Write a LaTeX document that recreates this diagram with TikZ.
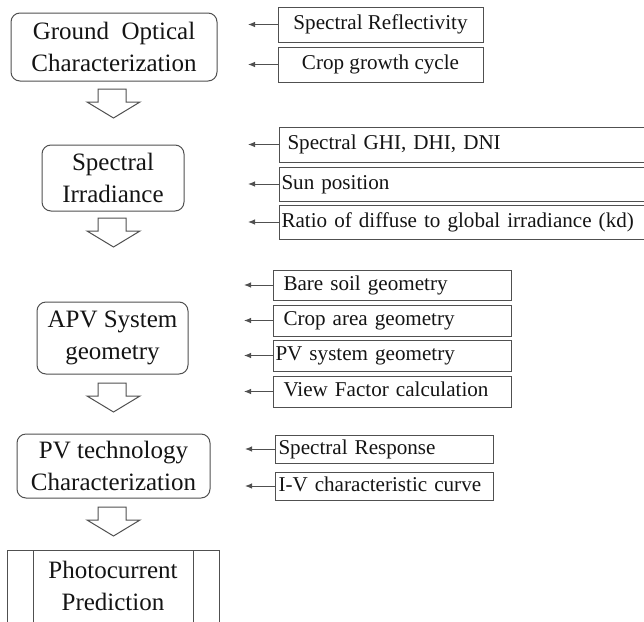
\documentclass[tikz,border=0pt]{standalone}
\usepackage{fontspec}
\setmainfont{Liberation Serif}
\usetikzlibrary{arrows.meta}
\definecolor{lc}{HTML}{505050}
\definecolor{tc}{HTML}{141414}
\begin{document}
\begin{tikzpicture}[x=1pt,y=-1pt,
  bigbox/.style={draw=lc, line width=1pt, rounded corners=9pt, align=center, text=tc,
    font=\fontsize{25}{32}\selectfont, inner sep=0pt},
  bigtext/.style={align=center, text=tc, font=\fontsize{25}{32}\selectfont, inner sep=0pt},
  smallbox/.style={draw=lc, line width=1pt, text=tc, font=\fontsize{21.1}{25}\selectfont,
    inner ysep=0pt, text height=15pt, text depth=4.7pt},
  lbox/.style={smallbox, anchor=west, align=left},
  conn/.style={draw=lc, line width=0.9pt, -{Latex[length=7pt,width=5.5pt]}},
  barrow/.style={draw=lc, line width=1pt, fill=white, line join=miter},
  frame/.style={draw=lc, line width=1pt}]
\useasboundingbox (0,0) rectangle (644,621);
\clip (0,0) rectangle (644,621);

% main chain
\node[bigbox, minimum width=206, minimum height=68] (gnd) at (114,47) {Ground\ \ Optical\\Characterization};
\node[bigbox, minimum width=142, minimum height=66] (irr) at (113,178) {Spectral\\Irradiance};
\node[bigbox, minimum width=151, minimum height=72] (apv) at (112.5,338) {APV System\\geometry};
\node[bigbox, minimum width=193, minimum height=64] (pvt) at (113.5,466) {PV technology\\Characterization};

% block arrows
\foreach \t in {89,218,383,507} {
  \draw[barrow] (98,\t) -- (126,\t) -- (126,\t+13) -- (140,\t+13) -- (113.5,\t+29)
     -- (87,\t+13) -- (98,\t+13) -- cycle;
}

% photocurrent prediction (cut by the lower edge)
\draw[frame] (7,640) -- (7,550) -- (219,550) -- (219,640);
\draw[frame] (33,550) -- (33,640);
\draw[frame] (193,550) -- (193,640);
\node[bigtext] (photo) at (113,585.5) {Photocurrent\\Prediction};

% group 1
\node[smallbox, minimum width=205, minimum height=35] (r1) at (380.5,24.5) {Spectral Reflectivity};
\node[smallbox, minimum width=205, minimum height=35] (r2) at (380.5,64.5) {Crop growth cycle};
\coordinate (r1e) at (248,24.5);
\coordinate (r2e) at (248,64.5);
\draw[conn] (r1) -- (r1e);
\draw[conn] (r2) -- (r2e);

% group 2
\node[lbox, inner xsep=8pt, text width=384pt, minimum height=35] (s1) at (279,144.5) {Spectral GHI, DHI, DNI};
\node[lbox, inner xsep=2pt, text width=396pt, minimum height=34] (s2) at (279,184) {Sun position};
\node[lbox, inner xsep=2pt, text width=396pt, minimum height=34] (s3) at (279,222) {Ratio of diffuse to global irradiance (kd)};
\coordinate (s1e) at (248,144.5);
\coordinate (s2e) at (248,184);
\coordinate (s3e) at (248,222);
\draw[conn] (s1) -- (s1e);
\draw[conn] (s2) -- (s2e);
\draw[conn] (s3) -- (s3e);

% group 3
\node[lbox, inner xsep=10pt, text width=218pt, minimum height=30] (b1) at (273,285) {Bare soil geometry};
\node[lbox, inner xsep=10pt, text width=218pt, minimum height=31] (b2) at (273,320.5) {Crop area geometry};
\node[lbox, inner xsep=2pt, text width=234pt, minimum height=31] (b3) at (273,355.5) {PV system geometry};
\node[lbox, inner xsep=10pt, text width=218pt, minimum height=31] (b4) at (273,391.5) {View Factor calculation};
\coordinate (b1e) at (244,285);
\coordinate (b2e) at (244,320.5);
\coordinate (b3e) at (244,355.5);
\coordinate (b4e) at (244,391.5);
\draw[conn] (b1) -- (b1e);
\draw[conn] (b2) -- (b2e);
\draw[conn] (b3) -- (b3e);
\draw[conn] (b4) -- (b4e);

% group 4
\node[lbox, inner xsep=3pt, text width=212pt, minimum height=28] (p1) at (275,449) {Spectral Response};
\node[lbox, inner xsep=3pt, text width=212pt, minimum height=28] (p2) at (275,486) {I-V characteristic curve};
\coordinate (p1e) at (245,449);
\coordinate (p2e) at (245,486);
\draw[conn] (p1) -- (p1e);
\draw[conn] (p2) -- (p2e);
\end{tikzpicture}
\end{document}
